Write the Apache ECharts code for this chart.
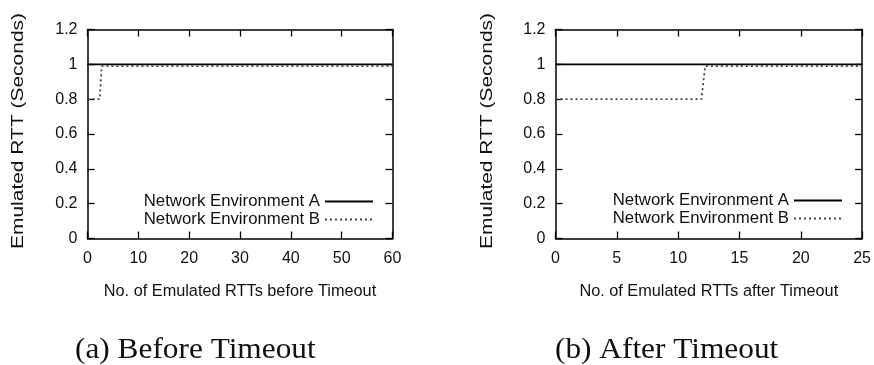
<!DOCTYPE html>
<html><head><meta charset="utf-8">
<script src="https://cdn.jsdelivr.net/npm/echarts@6/dist/echarts.min.js"></script>
<style>html,body{margin:0;padding:0;background:#fff}#c{width:874px;height:365px}</style>
</head><body><div id="c"></div>
<script>
// Panel (a): before timeout
const aXA = [0, 60];
const aYA = [1, 1];
const aXB = [0, 2.4, 2.8, 60];
const aYB = [0.8, 0.8, 0.99, 0.99];
// Panel (b): after timeout
const bXA = [0, 25];
const bYA = [1, 1];
const bXB = [0, 11.9, 12.2, 25];
const bYB = [0.8, 0.8, 0.99, 0.99];
const seriesNames = ['Network Environment A', 'Network Environment B'];
const xTitles = ['No. of Emulated RTTs before Timeout', 'No. of Emulated RTTs after Timeout'];
const yTitle = 'Emulated RTT (Seconds)';
const captions = ['(a) Before Timeout', '(b) After Timeout'];
const xMax = [60, 25];
const xStep = [10, 5];

const zip = (xs, ys) => xs.map((x, i) => [x, ys[i]]);
const font = 'Liberation Sans, Arial, sans-serif';
const serif = 'Liberation Serif, Times New Roman, serif';
const txt = '#111';
const axLine = {show: true, onZero: false, lineStyle: {color: '#000', width: 1.5}};
const axTick = {show: true, inside: true, length: 7, lineStyle: {color: '#000', width: 1.3}};

function xAxes(gi) {
  return [
    {gridIndex: gi, type: 'value', position: 'bottom', min: 0, max: xMax[gi], interval: xStep[gi],
     axisLine: axLine, axisTick: axTick,
     axisLabel: {color: txt, fontFamily: font, fontSize: 16, margin: 12},
     splitLine: {show: false},
     name: xTitles[gi], nameLocation: 'middle', nameGap: 45,
     nameTextStyle: {color: txt, fontFamily: font, fontSize: 16.3}},
    {gridIndex: gi, type: 'value', position: 'top', min: 0, max: xMax[gi], interval: xStep[gi],
     axisLine: axLine, axisTick: axTick,
     axisLabel: {show: false}, splitLine: {show: false}}
  ];
}
function yAxes(gi) {
  return [
    {gridIndex: gi, type: 'value', position: 'left', min: 0, max: 1.2, interval: 0.2,
     axisLine: axLine, axisTick: axTick,
     axisLabel: {color: txt, fontFamily: font, fontSize: 16, margin: 10},
     splitLine: {show: false}},
    {gridIndex: gi, type: 'value', position: 'right', min: 0, max: 1.2, interval: 0.2,
     axisLine: axLine, axisTick: axTick,
     axisLabel: {show: false}, splitLine: {show: false}}
  ];
}
function series(gi, xa, ya, xb, yb) {
  return [
    {name: seriesNames[0], type: 'line', xAxisIndex: gi * 2, yAxisIndex: gi * 2,
     data: zip(xa, ya), symbol: 'none', silent: true,
     lineStyle: {color: '#000', width: 1.6}, itemStyle: {color: '#000'}},
    {name: seriesNames[1], type: 'line', xAxisIndex: gi * 2, yAxisIndex: gi * 2,
     data: zip(xb, yb), symbol: 'none', silent: true,
     lineStyle: {color: '#444', width: 1.8, type: [2, 3]}, itemStyle: {color: '#444'}}
  ];
}
function legend(right, top) {
  return {orient: 'vertical', align: 'right', right: right, top: top, padding: 0,
    itemWidth: 48, itemHeight: 14, itemGap: 1,
    itemStyle: {opacity: 0},
    textStyle: {color: txt, fontFamily: font, fontSize: 16.8},
    data: seriesNames.map(n => ({name: n}))};
}
function yTitleEl(cx, cy) {
  return {type: 'text', x: cx, y: cy, rotation: Math.PI / 2, scaleX: 1.27, silent: true,
    style: {text: yTitle, fill: txt, fontFamily: font, fontSize: 16.5,
            align: 'center', verticalAlign: 'middle'}};
}
function captionEl(i, lx, cy) {
  return {type: 'text', x: lx, y: cy, scaleX: 1.08, silent: true,
    style: {text: captions[i], fill: '#111', fontFamily: serif, fontSize: 29,
            align: 'left', verticalAlign: 'middle'}};
}

const chart = echarts.init(document.getElementById('c'), null, {renderer: 'canvas'});
chart.setOption({
  backgroundColor: '#fff',
  animation: false,
  grid: [
    {left: 87.5, right: 481.5, top: 29.5, bottom: 126.5},
    {left: 555.5, right: 11.5, top: 29.5, bottom: 126.5}
  ],
  xAxis: [...xAxes(0), ...xAxes(1)],
  yAxis: [...yAxes(0), ...yAxes(1)],
  legend: [legend(874 - 374, 193), legend(874 - 843, 192)],
  graphic: [yTitleEl(18.5, 131), yTitleEl(487, 131), captionEl(0, 75, 350), captionEl(1, 555, 350)],
  series: [...series(0, aXA, aYA, aXB, aYB), ...series(1, bXA, bYA, bXB, bYB)]
});
</script></body></html>
